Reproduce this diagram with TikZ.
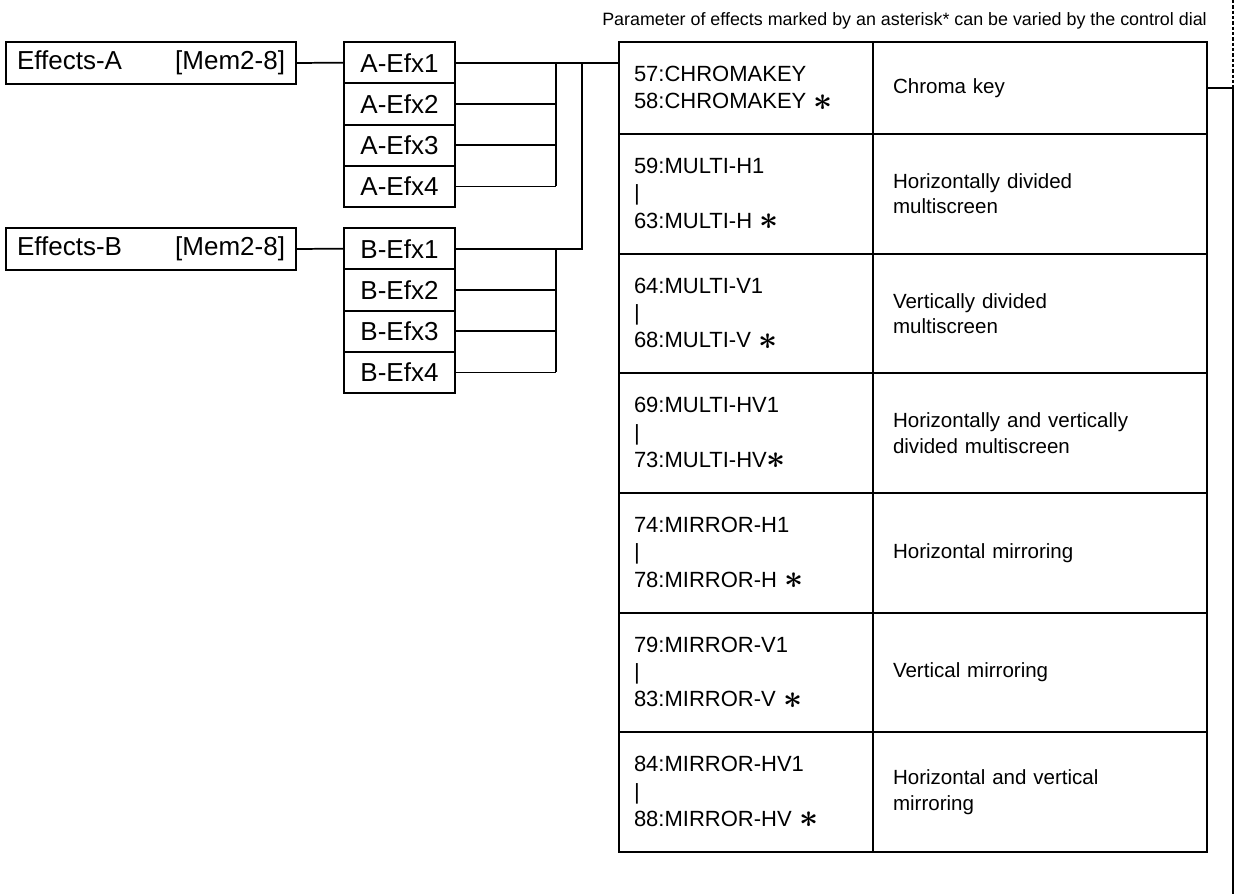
\documentclass[tikz,border=0pt]{standalone}
\usepackage{fontspec}
\setmainfont{Liberation Sans}
\usepackage{amsmath,amssymb}
\usepackage{xcolor}
\usetikzlibrary{positioning}

\newcommand{\marca}{\raisebox{-1pt}{\fontsize{24}{20}\selectfont$\boldsymbol{\ast}$}}

\begin{document}
\begin{tikzpicture}[x=0.75pt, y=-0.75pt,
  caja/.style={draw, line width=1.5pt, inner sep=0pt, outer sep=0pt, font=\fontsize{19.5}{23}\selectfont},
  efecto/.style={caja, minimum width=217.5pt, minimum height=31.5pt, inner xsep=8.25pt, text width=201pt, align=left},
  efx/.style={caja, minimum width=83.25pt, minimum height=30.94pt},
  celda/.style={draw, line width=1.7pt, outer sep=0pt, inner ysep=0pt, align=left},
  izq/.style={celda, minimum width=190.5pt, inner xsep=11.25pt, text width=168pt, font=\fontsize{16.5}{20.6}\selectfont},
  der/.style={celda, minimum width=250.5pt, inner xsep=15pt, text width=220.5pt, font=\fontsize{15.4}{19}\selectfont},
  alta/.style={minimum height=69pt},
  baja/.style={minimum height=89.75pt},
  linea/.style={line width=1.3pt}
]
  \useasboundingbox (0,0) rectangle (1234,894);

  \node[anchor=base east, inner sep=0pt, font=\fontsize{13.4}{15}\selectfont] (nota) at (1207,25)
    {Parameter of effects marked by an asterisk* can be varied by the control dial};

  \node[efecto, anchor=north west] (ea) at (6,42)  {Effects-A\hfill[Mem2-8]\hspace*{3.5pt}};
  \node[efecto, anchor=north west] (eb) at (6,228) {Effects-B\hfill[Mem2-8]\hspace*{3.5pt}};

  \node[efx, anchor=north west] (a1) at (344,42) {A-Efx1};
  \node[efx, below=0pt of a1] (a2) {A-Efx2};
  \node[efx, below=0pt of a2] (a3) {A-Efx3};
  \node[efx, below=0pt of a3] (a4) {A-Efx4};
  \node[efx, anchor=north west] (b1) at (344,228) {B-Efx1};
  \node[efx, below=0pt of b1] (b2) {B-Efx2};
  \node[efx, below=0pt of b2] (b3) {B-Efx3};
  \node[efx, below=0pt of b3] (b4) {B-Efx4};

  \node[izq, alta, anchor=north west] (l1) at (619,42) {57:CHROMAKEY\\58:CHROMAKEY \marca};
  \node[der, alta, right=0pt of l1] (r1) {Chroma key};
  \node[izq, baja, below=0pt of l1] (l2) {59:MULTI-H1\\|\\63:MULTI-H \marca};
  \node[der, baja, right=0pt of l2] (r2) {Horizontally divided\\multiscreen};
  \node[izq, baja, below=0pt of l2] (l3) {64:MULTI-V1\\|\\68:MULTI-V \marca};
  \node[der, baja, right=0pt of l3] (r3) {Vertically divided\\multiscreen};
  \node[izq, baja, below=0pt of l3] (l4) {69:MULTI-HV1\\|\\73:MULTI-HV\marca};
  \node[der, baja, right=0pt of l4] (r4) {Horizontally and vertically\\divided multiscreen};
  \node[izq, baja, below=0pt of l4] (l5) {74:MIRROR-H1\\|\\78:MIRROR-H \marca};
  \node[der, baja, right=0pt of l5] (r5) {Horizontal mirroring};
  \node[izq, baja, below=0pt of l5] (l6) {79:MIRROR-V1\\|\\83:MIRROR-V \marca};
  \node[der, baja, right=0pt of l6] (r6) {Vertical mirroring};
  \node[izq, baja, below=0pt of l6] (l7) {84:MIRROR-HV1\\|\\88:MIRROR-HV \marca};
  \node[der, baja, right=0pt of l7] (r7) {Horizontal and vertical\\mirroring};

  \coordinate (busa) at (556,0);
  \coordinate (busb) at (582,0);
  \coordinate (dial) at (1233,0);
  \coordinate (dialfin) at (1233,894);

  \draw[linea] (ea.east) -- (a1.west) (eb.east) -- (b1.west);
  \draw[linea] (a1.east) -- (a1.east -| l1.west);
  \draw[linea] (a2.east) -- (a2.east -| busa) (a3.east) -- (a3.east -| busa) (a4.east) -- (a4.east -| busa);
  \draw[linea] (a1.east -| busa) -- (a4.east -| busa);
  \draw[linea] (b1.east) -- (b1.east -| busb) -- (a1.east -| busb);
  \draw[linea] (b2.east) -- (b2.east -| busa) (b3.east) -- (b3.east -| busa) (b4.east) -- (b4.east -| busa);
  \draw[linea] (b1.east -| busa) -- (b4.east -| busa);

  \draw[linea] (r1.east) -- (r1.east -| dial);
  \draw[line width=0.9pt, dash pattern=on 2.5pt off 1.5pt] (dial) -- (r1.east -| dial);
  \draw[line width=1pt] (r1.east -| dial) -- (dialfin);
\end{tikzpicture}
\end{document}
